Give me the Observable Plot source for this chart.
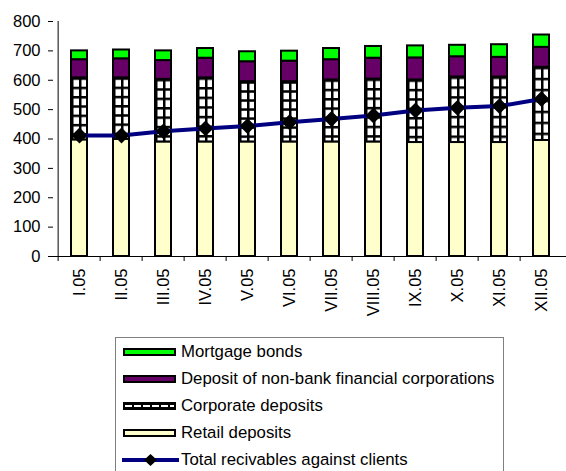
<!DOCTYPE html>
<html><head><meta charset="utf-8">
<script src="https://cdn.jsdelivr.net/npm/d3@7"></script>
<script src="https://cdn.jsdelivr.net/npm/@observablehq/plot@0.6"></script>
<style>
body{margin:0;background:#fff;font-family:"Liberation Sans",Arial,sans-serif;}
#legend{margin-left:115px;width:387px;border:1px solid #7f7f7f;border-bottom:none;font-size:16.8px;color:#000;padding-top:0;}
.row{height:27px;display:flex;align-items:center;white-space:nowrap;}
.row svg{margin-left:6px;margin-right:1px;flex:none;}
</style></head><body>
<div id="chart"></div>
<div id="legend"></div>
<script>
const months = ["I.05","II.05","III.05","IV.05","V.05","VI.05","VII.05","VIII.05","IX.05","X.05","XI.05","XII.05"];
const retail    = [397, 399, 390, 390, 390, 390, 390, 390, 388, 388, 388, 395];
const corporate = [211, 209, 213, 218, 205, 205, 211, 214, 213, 223, 223, 249];
const nonbank   = [62, 65, 64, 67, 68, 70, 69, 71, 75, 69, 67, 68];
const mortgage  = [30, 30, 33, 33, 34, 34, 38, 40, 41, 39, 43, 42];
const totals    = [412, 412, 426, 436, 444, 457, 468, 480, 497, 506, 512, 536];
const series = ["Retail deposits","Corporate deposits","Deposit of non-bank financial corporations","Mortgage bonds"];
const seriesFill = ["#ffffcc","url(#corpGrid)","#660066","#00ff00"];
const lineLabel = "Total recivables against clients";
const yTicks = [0,100,200,300,400,500,600,700,800];

const seriesValues = [retail, corporate, nonbank, mortgage];
const rows = [];
months.forEach((m,i)=>seriesValues.forEach((arr,j)=>rows.push({month:m, series:series[j], value:arr[i]})));
const totalRows = months.map((m,i)=>({month:m, value:totals[i]}));

const W=566, H=337, mL=53, mR=0;
const step = (W-mL-mR)/months.length;
const font = '"Liberation Sans", Arial, sans-serif';

const plot = Plot.plot({
  width: W, height: H, marginLeft: mL, marginRight: mR, marginTop: 21, marginBottom: 81,
  style: {fontFamily: font, fontSize: "16.5px", color: "black", background: "white", overflow: "visible"},
  x: {domain: months, paddingInner: 0.62, paddingOuter: 0.31, axis: null, label: null},
  y: {domain: [0,800], axis: null, label: null},
  color: {domain: series, range: seriesFill},
  marks: [
    Plot.barY(rows, {x:"month", y:"value", fill:"series", stroke:"black", strokeWidth:2}),
    Plot.line(totalRows, {x:"month", y:"value", stroke:"#000080", strokeWidth:4}),
    Plot.dot(totalRows, {x:"month", y:"value", symbol:"diamond2", r:6.2, fill:"black", stroke:"black"}),
    Plot.ruleY([yTicks[0]], {stroke:"black"}),
    Plot.ruleX([months[0]], {dx:-step/2, y1:yTicks[0], y2:yTicks[yTicks.length-1], stroke:"black"}),
    Plot.axisY({ticks: yTicks, tickSize:5, tickPadding:8, label:null, stroke:"black", fill:"black"}),
    Plot.axisX({tickSize:5, tickFormat:()=>"", dx:-step/2, label:null, stroke:"black"}),
    Plot.text(months, {x: d=>d, text: d=>d, frameAnchor:"bottom", rotate:-90, textAnchor:"end", lineAnchor:"middle", dy:12, fill:"black"})
  ]
});
d3.select(plot).insert("defs", ":first-child").html(
  '<pattern id="corpGrid" patternUnits="objectBoundingBox" x="0" y="0" width="0.5" height="0.15">' +
  '<rect width="100" height="100" fill="white"/>' +
  '<rect width="2.5" height="100" fill="black"/>' +
  '<rect width="100" height="2.5" fill="black"/></pattern>');
document.getElementById("chart").appendChild(plot);

// legend
const legend = document.getElementById("legend");
const items = [
  {label: series[3], kind:"rect", fill: seriesFill[3]},
  {label: series[2], kind:"rect", fill: seriesFill[2]},
  {label: series[1], kind:"grid"},
  {label: series[0], kind:"rect", fill: seriesFill[0]},
  {label: lineLabel, kind:"line"}
];
for (const it of items) {
  let sw;
  if (it.kind === "rect") sw = `<rect x="2" y="3" width="51" height="6" fill="${it.fill}" stroke="black" stroke-width="2"/>`;
  else if (it.kind === "grid") sw = `<rect x="2" y="3" width="51" height="6" fill="black" stroke="black" stroke-width="2"/><line x1="3" x2="52" y1="6" y2="6" stroke="white" stroke-width="2" stroke-dasharray="7,2"/>`;
  else sw = `<line x1="0" x2="57" y1="6" y2="6" stroke="#000080" stroke-width="4"/><path d="M28.5,0L35,6L28.5,12L22,6Z" fill="black"/>`;
  const row = document.createElement("div");
  row.className = "row";
  row.innerHTML = `<svg width="58" height="12">${sw}</svg><span>${it.label}</span>`;
  legend.appendChild(row);
}
</script>
</body></html>
